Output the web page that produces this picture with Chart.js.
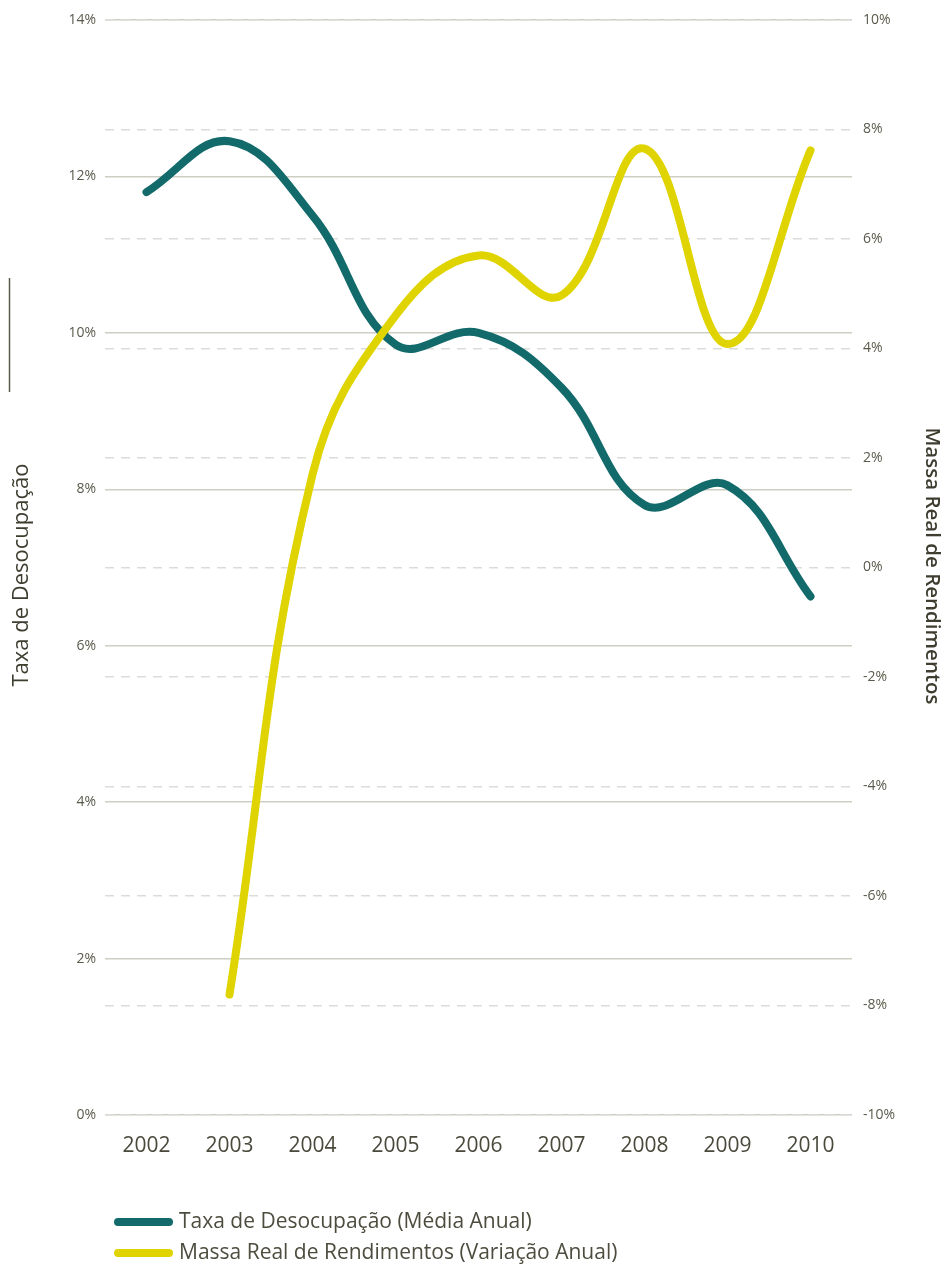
<!DOCTYPE html>
<html>
<head>
<meta charset="utf-8">
<script src="https://cdn.jsdelivr.net/npm/chart.js@4.4.1/dist/chart.umd.min.js"></script>
<style>
  html, body { margin: 0; padding: 0; background: #fff; }
  #wrap { width: 948px; height: 1267px; }
</style>
</head>
<body>
<div id="wrap"><canvas id="graphCanvas" width="948" height="1267"></canvas></div>
<script>
// Values
var years = ['2002', '2003', '2004', '2005', '2006', '2007', '2008', '2009', '2010'];
var taxaDesocupacao = [11.8, 12.45, 11.5, 9.85, 10.0, 9.3, 7.8, 8.05, 6.63];
var massaRendimentos = [null, -7.8, 1.7, 4.6, 5.7, 4.97, 7.65, 4.08, 7.62];
var legendLabels = ['Taxa de Desocupação (Média Anual)', 'Massa Real de Rendimentos (Variação Anual)'];
var leftTitle = 'Taxa de Desocupação';
var rightTitle = 'Massa Real de Rendimentos';

var teal = '#136a6b';
var yellow = '#dfd400';
var tickColor = '#5b5a4c';
var FONT = '"Open Sans", "DejaVu Sans", sans-serif';

document.addEventListener('DOMContentLoaded', function () {
  var ctx = document.getElementById('graphCanvas').getContext('2d');

  // Titles, small rule and legend drawn on top of the chart
  var extras = {
    id: 'extras',
    afterDraw: function (chart) {
      var c = chart.ctx;
      c.save();

      // little vertical rule on the left
      c.strokeStyle = '#5a5a4a';
      c.lineWidth = 1.5;
      c.beginPath();
      c.moveTo(9.5, 278);
      c.lineTo(9.5, 392);
      c.stroke();

      // left title
      c.fillStyle = '#3e3d30';
      c.font = '500 22px ' + FONT;
      c.textAlign = 'center';
      c.textBaseline = 'middle';
      c.save();
      c.translate(22, 575);
      c.rotate(-Math.PI / 2);
      c.fillText(leftTitle, 0, 0);
      c.restore();

      // right title
      c.font = '600 20.5px ' + FONT;
      c.save();
      c.translate(932, 566);
      c.rotate(Math.PI / 2);
      c.fillText(rightTitle, 0, 0);
      c.restore();

      // legend
      var colors = [teal, yellow];
      var rows = [1222, 1253];
      c.lineCap = 'round';
      c.lineWidth = 8;
      c.font = '21px ' + FONT;
      c.textAlign = 'left';
      for (var i = 0; i < legendLabels.length; i++) {
        c.strokeStyle = colors[i];
        c.beginPath();
        c.moveTo(118, rows[i]);
        c.lineTo(169, rows[i]);
        c.stroke();
        c.fillStyle = '#4d4c3e';
        c.fillText(legendLabels[i], 179, rows[i]);
      }
      c.restore();
    }
  };

  var config = {
    type: 'line',
    data: {
      labels: years,
      datasets: [{
        label: legendLabels[1],
        data: massaRendimentos,
        yAxisID: 'y1',
        borderColor: yellow,
        borderWidth: 8,
        borderCapStyle: 'round',
        borderJoinStyle: 'round',
        pointRadius: 0,
        tension: 0.4,
        fill: false,
        order: 0
      }, {
        label: legendLabels[0],
        data: taxaDesocupacao,
        yAxisID: 'y',
        borderColor: teal,
        borderWidth: 8,
        borderCapStyle: 'round',
        borderJoinStyle: 'round',
        pointRadius: 0,
        tension: 0.4,
        fill: false,
        order: 1
      }]
    },
    options: {
      responsive: false,
      animation: false,
      devicePixelRatio: 1,
      layout: { padding: { top: 20, left: 0, right: 0, bottom: 0 } },
      plugins: {
        legend: { display: false },
        tooltip: { enabled: false }
      },
      scales: {
        x: {
          offset: true,
          grid: { display: false },
          border: { display: false },
          ticks: {
            color: '#4a493c',
            font: { family: FONT, size: 21 },
            padding: 10
          },
          afterFit: function (s) { s.height = 152; }
        },
        y: {
          position: 'left',
          min: 0,
          max: 14,
          grid: { color: '#cfcec4', lineWidth: 1.5, drawTicks: false },
          border: { display: false },
          ticks: {
            stepSize: 2,
            color: tickColor,
            padding: 9,
            font: { family: FONT, size: 14 },
            callback: function (v) { return v + '%'; }
          },
          afterFit: function (s) { s.width = 105; }
        },
        y1: {
          position: 'right',
          min: -10,
          max: 10,
          grid: { color: '#dcdcd8', lineWidth: 1.5, drawTicks: false },
          border: { display: false, dash: [9, 7] },
          ticks: {
            stepSize: 2,
            color: tickColor,
            padding: 11,
            font: { family: FONT, size: 14 },
            callback: function (v) { return v + '%'; }
          },
          afterFit: function (s) { s.width = 96; }
        }
      }
    },
    plugins: [extras]
  };

  var graph = new Chart(ctx, config);
});
</script>
</body>
</html>
